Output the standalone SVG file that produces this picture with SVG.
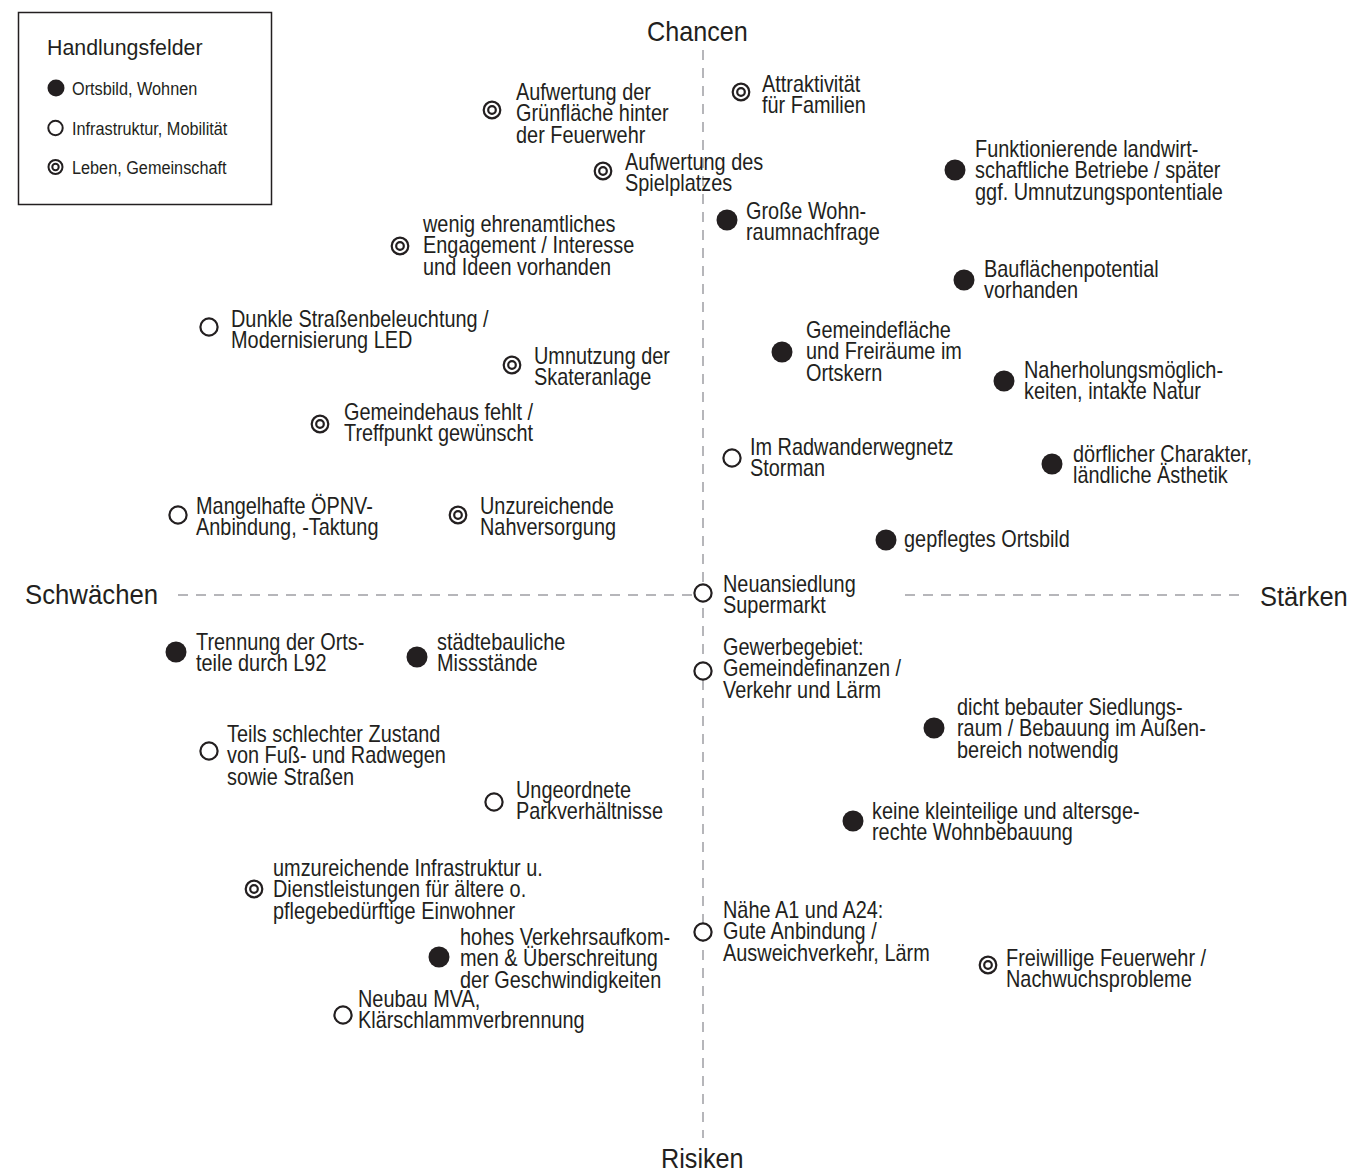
<svg xmlns="http://www.w3.org/2000/svg" width="1351" height="1173" viewBox="0 0 1351 1173">
<style>
.t{font-family:"Liberation Sans",Arial,sans-serif;font-size:23px;fill:#231f20}
.h{font-family:"Liberation Sans",Arial,sans-serif;font-size:28px;fill:#231f20}
.lt{font-family:"Liberation Sans",Arial,sans-serif;font-size:22.5px;fill:#231f20}
.li{font-family:"Liberation Sans",Arial,sans-serif;font-size:17.5px;fill:#231f20}
.ax{stroke:#b6b6ba;stroke-width:2;stroke-dasharray:10 8;fill:none}
</style>
<defs>
<g id="f"><circle r="10.5" fill="#231f20"/></g>
<g id="o"><circle r="8.6" fill="#fff" stroke="#231f20" stroke-width="2.2"/></g>
<g id="d"><circle r="8.3" fill="#fff" stroke="#231f20" stroke-width="2.2"/><circle r="3.8" fill="none" stroke="#231f20" stroke-width="2.2"/></g>
</defs>
<rect width="1351" height="1173" fill="#fff"/>
<g id="connectors">
<line class="ax" x1="703" y1="50" x2="703" y2="1138"/>
<line class="ax" x1="178" y1="595" x2="694" y2="595"/>
<line class="ax" x1="905" y1="595" x2="1246" y2="595"/>
</g>
<g id="axis-labels">
<text class="h" transform="translate(647,41) scale(0.9,1)">Chancen</text>
<text class="h" transform="translate(25,604) scale(0.92,1)">Schwächen</text>
<text class="h" transform="translate(1260,606) scale(0.91,1)">Stärken</text>
<text class="h" transform="translate(661,1168) scale(0.9,1)">Risiken</text>
</g>
<g id="legend">
<rect x="18.5" y="12.5" width="253" height="192" fill="#fff" stroke="#231f20" stroke-width="1.5"/>
<text class="lt" transform="translate(47,55) scale(0.95,1)">Handlungsfelder</text>
<circle cx="56" cy="88" r="8.5" fill="#231f20"/>
<text class="li" transform="translate(72,95) scale(0.93,1)">Ortsbild, Wohnen</text>
<circle cx="55.5" cy="128" r="7.2" fill="#fff" stroke="#231f20" stroke-width="2"/>
<text class="li" transform="translate(72,135) scale(0.93,1)">Infrastruktur, Mobilität</text>
<circle cx="55.5" cy="167" r="7" fill="#fff" stroke="#231f20" stroke-width="2"/>
<circle cx="55.5" cy="167" r="3.2" fill="none" stroke="#231f20" stroke-width="2"/>
<text class="li" transform="translate(72,174) scale(0.93,1)">Leben, Gemeinschaft</text>
</g>
<g id="n1"><use href="#d" x="492" y="110"/><text class="t" transform="translate(516,100) scale(0.865,1)"><tspan x="0">Aufwertung der</tspan><tspan x="0" dy="21.5">Grünfläche hinter</tspan><tspan x="0" dy="21.5">der Feuerwehr</tspan></text></g>
<g id="n2"><use href="#d" x="741" y="92"/><text class="t" transform="translate(762,92) scale(0.865,1)"><tspan x="0">Attraktivität</tspan><tspan x="0" dy="21.5">für Familien</tspan></text></g>
<g id="n3"><use href="#d" x="603" y="171"/><text class="t" transform="translate(625,170) scale(0.865,1)"><tspan x="0">Aufwertung des</tspan><tspan x="0" dy="21.5">Spielplatzes</tspan></text></g>
<g id="n4"><use href="#f" x="955" y="170"/><text class="t" transform="translate(975,157) scale(0.865,1)"><tspan x="0">Funktionierende landwirt-</tspan><tspan x="0" dy="21.5">schaftliche Betriebe / später</tspan><tspan x="0" dy="21.5">ggf. Umnutzungspontentiale</tspan></text></g>
<g id="n5"><use href="#f" x="727" y="220"/><text class="t" transform="translate(746,219) scale(0.865,1)"><tspan x="0">Große Wohn-</tspan><tspan x="0" dy="21.5">raumnachfrage</tspan></text></g>
<g id="n6"><use href="#d" x="400" y="246"/><text class="t" transform="translate(423,232) scale(0.865,1)"><tspan x="0">wenig ehrenamtliches</tspan><tspan x="0" dy="21.5">Engagement / Interesse</tspan><tspan x="0" dy="21.5">und Ideen vorhanden</tspan></text></g>
<g id="n7"><use href="#f" x="964" y="280"/><text class="t" transform="translate(984,277) scale(0.865,1)"><tspan x="0">Bauflächenpotential</tspan><tspan x="0" dy="21.5">vorhanden</tspan></text></g>
<g id="n8"><use href="#o" x="209" y="327"/><text class="t" transform="translate(231,327) scale(0.865,1)"><tspan x="0">Dunkle Straßenbeleuchtung /</tspan><tspan x="0" dy="21.5">Modernisierung LED</tspan></text></g>
<g id="n9"><use href="#f" x="782" y="352"/><text class="t" transform="translate(806,338) scale(0.865,1)"><tspan x="0">Gemeindefläche</tspan><tspan x="0" dy="21.5">und Freiräume im</tspan><tspan x="0" dy="21.5">Ortskern</tspan></text></g>
<g id="n10"><use href="#d" x="512" y="365"/><text class="t" transform="translate(534,364) scale(0.865,1)"><tspan x="0">Umnutzung der</tspan><tspan x="0" dy="21.5">Skateranlage</tspan></text></g>
<g id="n11"><use href="#f" x="1004" y="381"/><text class="t" transform="translate(1024,378) scale(0.865,1)"><tspan x="0">Naherholungsmöglich-</tspan><tspan x="0" dy="21.5">keiten, intakte Natur</tspan></text></g>
<g id="n12"><use href="#d" x="320" y="424"/><text class="t" transform="translate(344,420) scale(0.865,1)"><tspan x="0">Gemeindehaus fehlt /</tspan><tspan x="0" dy="21.5">Treffpunkt gewünscht</tspan></text></g>
<g id="n13"><use href="#o" x="732" y="458"/><text class="t" transform="translate(750,455) scale(0.865,1)"><tspan x="0">Im Radwanderwegnetz</tspan><tspan x="0" dy="21.5">Storman</tspan></text></g>
<g id="n14"><use href="#f" x="1052" y="464"/><text class="t" transform="translate(1073,462) scale(0.865,1)"><tspan x="0">dörflicher Charakter,</tspan><tspan x="0" dy="21.5">ländliche Ästhetik</tspan></text></g>
<g id="n15"><use href="#o" x="178" y="515"/><text class="t" transform="translate(196,514) scale(0.865,1)"><tspan x="0">Mangelhafte ÖPNV-</tspan><tspan x="0" dy="21.5">Anbindung, -Taktung</tspan></text></g>
<g id="n16"><use href="#d" x="458" y="515"/><text class="t" transform="translate(480,514) scale(0.865,1)"><tspan x="0">Unzureichende</tspan><tspan x="0" dy="21.5">Nahversorgung</tspan></text></g>
<g id="n17"><use href="#f" x="886" y="540"/><text class="t" transform="translate(904,547) scale(0.865,1)">gepflegtes Ortsbild</text></g>
<g id="n18"><use href="#o" x="703" y="593"/><text class="t" transform="translate(723,592) scale(0.865,1)"><tspan x="0">Neuansiedlung</tspan><tspan x="0" dy="21.5">Supermarkt</tspan></text></g>
<g id="n19"><use href="#o" x="703" y="671"/><text class="t" transform="translate(723,655) scale(0.865,1)"><tspan x="0">Gewerbegebiet:</tspan><tspan x="0" dy="21.5">Gemeindefinanzen /</tspan><tspan x="0" dy="21.5">Verkehr und Lärm</tspan></text></g>
<g id="n20"><use href="#f" x="176" y="652"/><text class="t" transform="translate(196,650) scale(0.865,1)"><tspan x="0">Trennung der Orts-</tspan><tspan x="0" dy="21.5">teile durch L92</tspan></text></g>
<g id="n21"><use href="#f" x="417" y="657"/><text class="t" transform="translate(437,650) scale(0.865,1)"><tspan x="0">städtebauliche</tspan><tspan x="0" dy="21.5">Missstände</tspan></text></g>
<g id="n22"><use href="#f" x="934" y="728"/><text class="t" transform="translate(957,715) scale(0.865,1)"><tspan x="0">dicht bebauter Siedlungs-</tspan><tspan x="0" dy="21.5">raum / Bebauung im Außen-</tspan><tspan x="0" dy="21.5">bereich notwendig</tspan></text></g>
<g id="n23"><use href="#o" x="209" y="751"/><text class="t" transform="translate(227,742) scale(0.865,1)"><tspan x="0">Teils schlechter Zustand</tspan><tspan x="0" dy="21.5">von Fuß- und Radwegen</tspan><tspan x="0" dy="21.5">sowie Straßen</tspan></text></g>
<g id="n24"><use href="#o" x="494" y="802"/><text class="t" transform="translate(516,798) scale(0.865,1)"><tspan x="0">Ungeordnete</tspan><tspan x="0" dy="21.5">Parkverhältnisse</tspan></text></g>
<g id="n25"><use href="#f" x="853" y="821"/><text class="t" transform="translate(872,819) scale(0.865,1)"><tspan x="0">keine kleinteilige und altersge-</tspan><tspan x="0" dy="21.5">rechte Wohnbebauung</tspan></text></g>
<g id="n26"><use href="#d" x="254" y="889"/><text class="t" transform="translate(273,876) scale(0.865,1)"><tspan x="0">umzureichende Infrastruktur u.</tspan><tspan x="0" dy="21.5">Dienstleistungen für ältere o.</tspan><tspan x="0" dy="21.5">pflegebedürftige Einwohner</tspan></text></g>
<g id="n27"><use href="#o" x="703" y="932"/><text class="t" transform="translate(723,918) scale(0.865,1)"><tspan x="0">Nähe A1 und A24:</tspan><tspan x="0" dy="21.5">Gute Anbindung /</tspan><tspan x="0" dy="21.5">Ausweichverkehr, Lärm</tspan></text></g>
<g id="n28"><use href="#f" x="439" y="957"/><text class="t" transform="translate(460,945) scale(0.865,1)"><tspan x="0">hohes Verkehrsaufkom-</tspan><tspan x="0" dy="21.5">men &amp; Überschreitung</tspan><tspan x="0" dy="21.5">der Geschwindigkeiten</tspan></text></g>
<g id="n29"><use href="#d" x="988" y="965"/><text class="t" transform="translate(1006,966) scale(0.865,1)"><tspan x="0">Freiwillige Feuerwehr /</tspan><tspan x="0" dy="21.5">Nachwuchsprobleme</tspan></text></g>
<g id="n30"><use href="#o" x="343" y="1015"/><text class="t" transform="translate(358,1007) scale(0.865,1)"><tspan x="0">Neubau MVA,</tspan><tspan x="0" dy="21.5">Klärschlammverbrennung</tspan></text></g>
</svg>
